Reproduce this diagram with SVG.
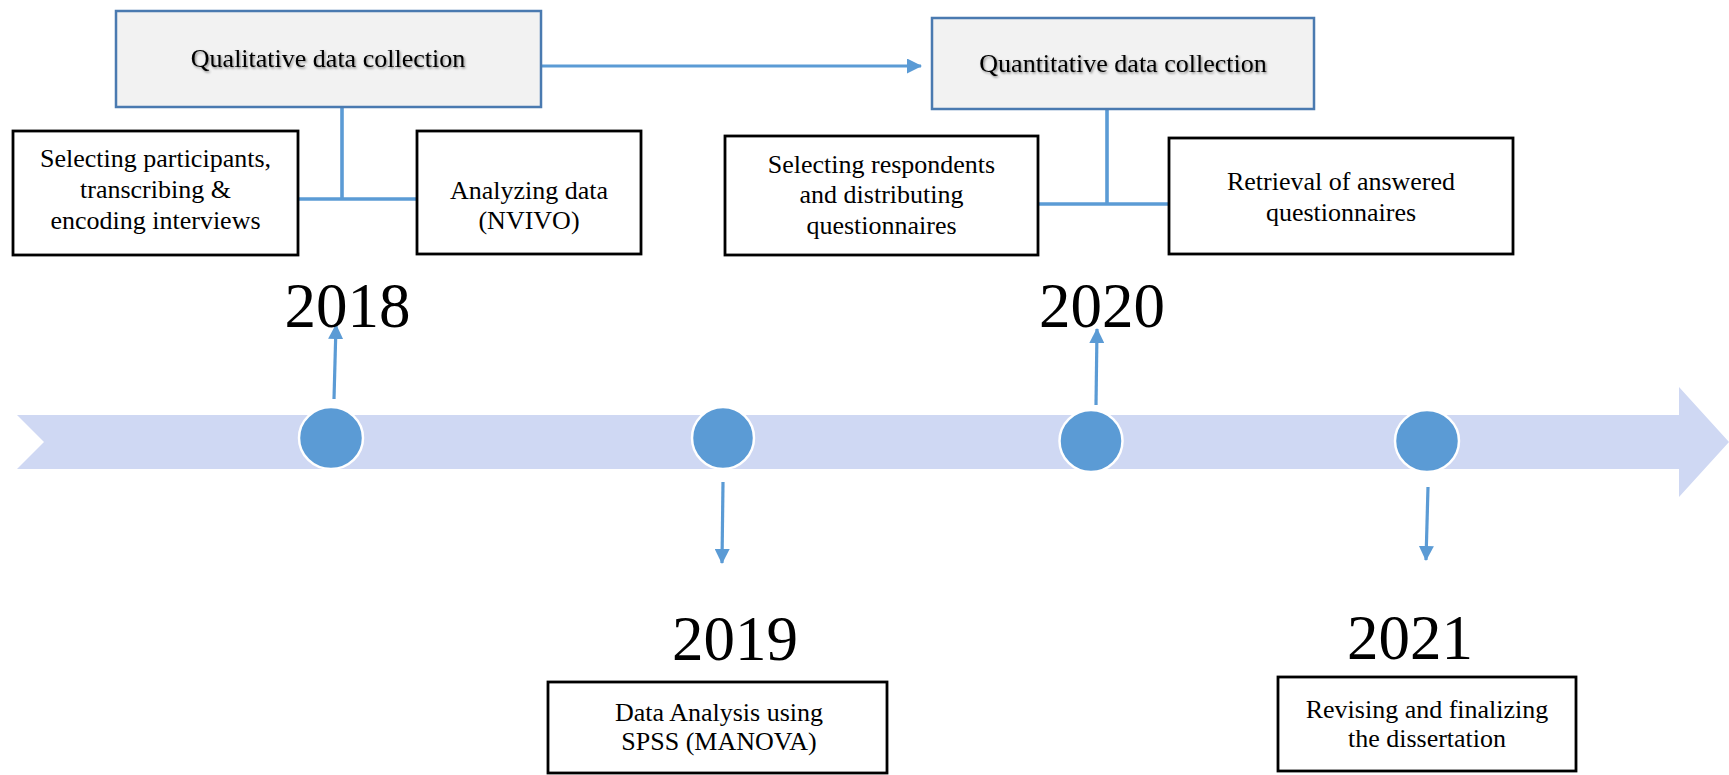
<svg xmlns="http://www.w3.org/2000/svg" width="1729" height="775" viewBox="0 0 1729 775">
  <defs>
    <style>
      .box { fill: #ffffff; stroke: #000000; stroke-width: 2.8; }
      .head { fill: #f2f2f2; stroke: #4a7ab0; stroke-width: 2.5; }
      .txt { font-family: "Liberation Serif", "Times New Roman", serif; font-size: 26px; fill: #000000; text-anchor: middle; }
      .htxt { font-family: "Liberation Serif", "Times New Roman", serif; font-size: 26px; fill: #000000; text-anchor: middle; filter: url(#shadow); }
      .year { font-family: "Liberation Serif", "Times New Roman", serif; font-size: 63px; fill: #000000; text-anchor: middle; }
      .link { fill: none; stroke: #5b9bd5; stroke-width: 3.6; }
      .arrow { fill: none; stroke: #5b9bd5; stroke-width: 3.2; marker-end: url(#tip); }
      .dot { fill: #5b9bd5; stroke: #ffffff; stroke-width: 2.5; }
    </style>
    <marker id="tip" viewBox="0 0 15 15" refX="14" refY="7.5" markerWidth="15" markerHeight="15" markerUnits="userSpaceOnUse" orient="auto">
      <path d="M0,0 L15,7.5 L0,15 z" fill="#5b9bd5"/>
    </marker>
    <filter id="shadow" x="-5%" y="-30%" width="110%" height="160%">
      <feDropShadow dx="1.2" dy="1.5" stdDeviation="1" flood-color="#000000" flood-opacity="0.45"/>
    </filter>
  </defs>

  <!-- timeline band -->
  <g id="timeline">
    <polygon points="17,415 1679,415 1679,387 1729,442 1679,497 1679,469 17,469 44,442" fill="#cfd8f3"/>
  </g>

  <!-- connectors -->
  <g id="connectors">
    <line class="arrow" x1="541" y1="66" x2="921" y2="66"/>
    <line class="link" x1="342" y1="107" x2="342" y2="199"/>
    <line class="link" x1="298" y1="199" x2="417" y2="199"/>
    <line class="link" x1="1107" y1="109" x2="1107" y2="204"/>
    <line class="link" x1="1038" y1="204" x2="1169" y2="204"/>
    <line class="arrow" x1="334" y1="399" x2="336" y2="325"/>
    <line class="arrow" x1="1096" y1="405" x2="1097" y2="329"/>
    <line class="arrow" x1="723" y1="482" x2="722" y2="563"/>
    <line class="arrow" x1="1428" y1="487" x2="1426" y2="560"/>
  </g>

  <!-- milestone dots -->
  <g id="dot-2018"><ellipse class="dot" cx="331" cy="438" rx="32" ry="31"/></g>
  <g id="dot-2019"><ellipse class="dot" cx="723" cy="438" rx="31" ry="31"/></g>
  <g id="dot-2020"><ellipse class="dot" cx="1091" cy="441" rx="31.5" ry="31"/></g>
  <g id="dot-2021"><ellipse class="dot" cx="1427" cy="441" rx="32" ry="31"/></g>

  <!-- year labels -->
  <g id="year-2018"><text class="year" x="347.5" y="327">2018</text></g>
  <g id="year-2019"><text class="year" x="735" y="660">2019</text></g>
  <g id="year-2020"><text class="year" x="1102" y="327">2020</text></g>
  <g id="year-2021"><text class="year" x="1410" y="659">2021</text></g>

  <!-- 2018 phase -->
  <g id="qualitative">
    <rect class="head" x="116" y="11" width="425" height="96"/>
    <text class="htxt" x="328" y="67">Qualitative data collection</text>
  </g>
  <g id="selecting-participants">
    <rect class="box" x="13" y="131" width="285" height="124"/>
    <text class="txt" x="155.5" y="167">Selecting participants,</text>
    <text class="txt" x="155.5" y="198">transcribing &amp;</text>
    <text class="txt" x="155.5" y="229">encoding interviews</text>
  </g>
  <g id="analyzing-nvivo">
    <rect class="box" x="417" y="131" width="224" height="123"/>
    <text class="txt" x="529" y="199">Analyzing data</text>
    <text class="txt" x="529" y="229">(NVIVO)</text>
  </g>

  <!-- 2020 phase -->
  <g id="quantitative">
    <rect class="head" x="932" y="18" width="382" height="91"/>
    <text class="htxt" x="1123" y="72">Quantitative data collection</text>
  </g>
  <g id="selecting-respondents">
    <rect class="box" x="725" y="136" width="313" height="119"/>
    <text class="txt" x="881.5" y="173">Selecting respondents</text>
    <text class="txt" x="881.5" y="203">and distributing</text>
    <text class="txt" x="881.5" y="234">questionnaires</text>
  </g>
  <g id="retrieval">
    <rect class="box" x="1169" y="138" width="344" height="116"/>
    <text class="txt" x="1341" y="190">Retrieval of answered</text>
    <text class="txt" x="1341" y="221">questionnaires</text>
  </g>

  <!-- 2019 and 2021 -->
  <g id="spss-analysis">
    <rect class="box" x="548" y="682" width="339" height="91"/>
    <text class="txt" x="719" y="721">Data Analysis using</text>
    <text class="txt" x="719" y="750">SPSS (MANOVA)</text>
  </g>
  <g id="finalizing">
    <rect class="box" x="1278" y="677" width="298" height="94"/>
    <text class="txt" x="1427" y="718">Revising and finalizing</text>
    <text class="txt" x="1427" y="747">the dissertation</text>
  </g>
</svg>
